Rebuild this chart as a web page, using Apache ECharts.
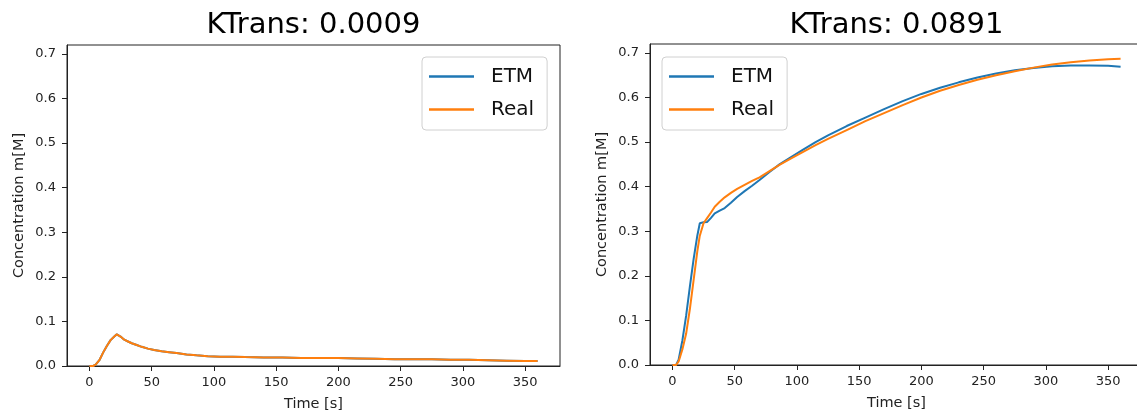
<!DOCTYPE html>
<html>
<head>
<meta charset="utf-8">
<script src="https://cdn.jsdelivr.net/npm/echarts@6/dist/echarts.min.js"></script>
<style>
html,body{margin:0;padding:0;background:#fff;}
#chart{width:1137px;height:415px;}
</style>
</head>
<body>
<div id="chart"></div>
<script>
const timeS = [0,3,5,8,11,14,17,20,22,25,28,31,34,38,42,47,52,58,64,70,78,86,95,105,115,125,140,155,170,185,200,215,230,245,260,275,290,305,320,335,350,360];

const etmLeft  = [0,0,0.003,0.013,0.03,0.045,0.058,0.066,0.071,0.066,0.059,0.055,0.051,0.047,0.043,0.039,0.036,0.033,0.031,0.029,0.026,0.024,0.022,0.021,0.021,0.020,0.019,0.019,0.018,0.018,0.018,0.017,0.016,0.015,0.015,0.015,0.014,0.014,0.013,0.012,0.011,0.011];
const realLeft = [0,0,0.003,0.013,0.03,0.045,0.058,0.066,0.071,0.066,0.059,0.055,0.051,0.047,0.043,0.039,0.036,0.033,0.031,0.029,0.026,0.024,0.022,0.021,0.021,0.020,0.019,0.019,0.018,0.018,0.018,0.017,0.016,0.015,0.015,0.015,0.014,0.014,0.013,0.012,0.011,0.011];

const etmRight  = [0,0,0.012,0.055,0.11,0.175,0.237,0.29,0.318,0.32,0.321,0.33,0.34,0.346,0.352,0.364,0.377,0.39,0.402,0.415,0.433,0.45,0.466,0.483,0.5,0.515,0.536,0.555,0.574,0.592,0.608,0.622,0.634,0.645,0.654,0.661,0.666,0.67,0.672,0.672,0.671,0.669];
const realRight = [0,0,0.008,0.035,0.07,0.125,0.19,0.255,0.29,0.318,0.33,0.342,0.355,0.366,0.376,0.386,0.395,0.404,0.413,0.421,0.435,0.449,0.463,0.478,0.493,0.507,0.527,0.547,0.565,0.583,0.6,0.615,0.628,0.64,0.65,0.659,0.667,0.674,0.679,0.683,0.686,0.687];

const titles = ['KTrans: 0.0009', 'KTrans: 0.0891'];
const seriesNames = ['ETM', 'Real'];
const xTicks = [0,50,100,150,200,250,300,350];
const yTicks = [0,0.1,0.2,0.3,0.4,0.5,0.6,0.7];
const xLabel = 'Time [s]';
const yLabel = 'Concentration m[M]';

const FONT = 'DejaVu Sans';
const colors = ['#1f77b4', '#ff7f0e'];
const grids = [
  {left: 67, top: 45, width: 493, height: 321},
  {left: 650, top: 44, width: 493, height: 321}
];

function pairs(t, v){ return t.map((x,i)=>[x, v[i]]); }

const xAxes = grids.map((g,i)=>({
  type:'value', gridIndex:i, min:-18, max:378,
  name: xLabel, nameLocation:'middle', nameGap: 31,
  nameTextStyle:{fontFamily:FONT, fontSize:14.5, color:'#222'},
  axisLine:{show:true, onZero:false, lineStyle:{color:'#222', width:1}},
  axisTick:{show:true, length:5, lineStyle:{color:'#222'}, customValues:xTicks},
  axisLabel:{show:true, margin:10, fontFamily:FONT, fontSize:13, color:'#222', customValues:xTicks, formatter: v=>String(v)},
  splitLine:{show:false}
}));
const yAxes = grids.map((g,i)=>({
  type:'value', gridIndex:i, min:0, max:0.72,
  name: yLabel, nameLocation:'middle', nameGap: 40, nameRotate:90,
  nameTextStyle:{fontFamily:FONT, fontSize:14.5, color:'#222'},
  axisLine:{show:true, onZero:false, lineStyle:{color:'#222', width:1}},
  axisTick:{show:true, length:5, lineStyle:{color:'#222'}, customValues:yTicks},
  axisLabel:{show:true, margin:11, fontFamily:FONT, fontSize:13, color:'#222', customValues:yTicks, formatter: v=>v.toFixed(1)},
  splitLine:{show:false}
}));

const data = [[etmLeft, realLeft],[etmRight, realRight]];
const series = [];
for (let g=0; g<2; g++){
  for (let s=0; s<2; s++){
    series.push({
      type:'line', name:seriesNames[s], xAxisIndex:g, yAxisIndex:g,
      data: pairs(timeS, data[g][s]), showSymbol:false, symbol:'none',
      lineStyle:{color:colors[s], width:2}, itemStyle:{color:colors[s]},
      smooth:false, animation:false, silent:true
    });
  }
}

const legendBase = {
  orient:'vertical', data:seriesNames, icon:'rect', itemWidth:45, itemHeight:2.5, itemGap:12,
  backgroundColor:'rgba(255,255,255,0.8)', borderColor:'#d0d0d0', borderWidth:1, borderRadius:4,
  padding:[9,13,10,7], selectedMode:false,
  textStyle:{fontFamily:FONT, fontSize:20, color:'#111', padding:[0,0,0,12], lineHeight:21}
};

const option = {
  animation:false,
  backgroundColor:'#fff',
  title: titles.map((t,i)=>({
    text:t, left: grids[i].left + grids[i].width/2, top: 11, textAlign:'center', padding:0,
    textStyle:{fontFamily:FONT, fontSize:29, fontWeight:'normal', color:'#000'}
  })),
  grid: grids.map(g=>Object.assign({show:true, borderColor:'#222', borderWidth:1, backgroundColor:'transparent', containLabel:false, outerBoundsMode:'none'}, g)),
  legend: [
    Object.assign({}, legendBase, {left:422, top:57}),
    Object.assign({}, legendBase, {left:662, top:57})
  ],
  xAxis: xAxes,
  yAxis: yAxes,
  series: series
};

const chart = echarts.init(document.getElementById('chart'), null, {renderer:'canvas'});
chart.setOption(option);
</script>
</body>
</html>
